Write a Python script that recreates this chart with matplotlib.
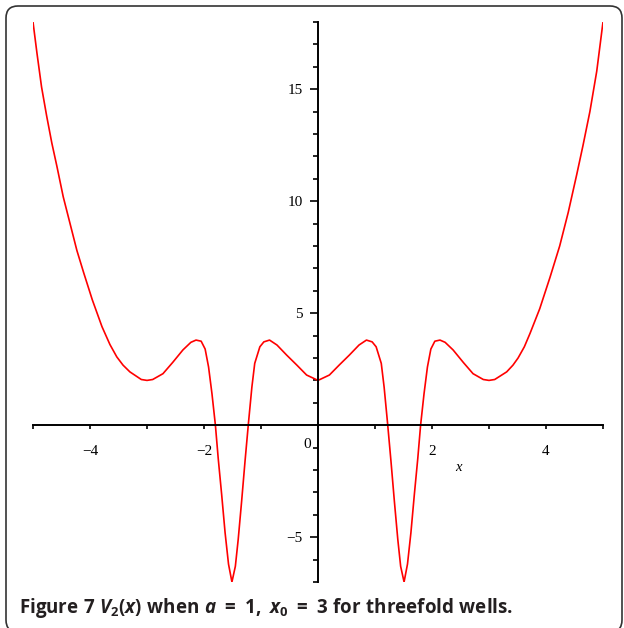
import matplotlib
matplotlib.use("Agg")
import matplotlib.pyplot as plt
from matplotlib.patches import FancyBboxPatch
from matplotlib.transforms import IdentityTransform

# V2(x) values (a = 1, x0 = 3)
x_vals = [-5.0, -4.93, -4.85, -4.76, -4.67, -4.58, -4.47, -4.35, -4.23, -4.11,
          -3.96, -3.79, -3.65, -3.53, -3.42, -3.30, -3.10, -3.0, -2.90, -2.72,
          -2.55, -2.37, -2.23, -2.14, -2.05, -1.98, -1.92, -1.86, -1.80, -1.75,
          -1.69, -1.63, -1.57, -1.51, -1.45, -1.40, -1.34, -1.28, -1.22, -1.16,
          -1.11, -1.02, -0.95, -0.85, -0.72, -0.55, -0.37, -0.20, 0.0,
          0.20, 0.37, 0.55, 0.72, 0.85, 0.95, 1.02, 1.11, 1.16, 1.22,
          1.28, 1.34, 1.40, 1.45, 1.51, 1.57, 1.63, 1.69, 1.75, 1.80,
          1.86, 1.92, 1.98, 2.05, 2.14, 2.23, 2.37, 2.55, 2.72, 2.90,
          3.0, 3.10, 3.31, 3.42, 3.51, 3.62, 3.72, 3.89, 4.07, 4.24,
          4.39, 4.54, 4.65, 4.77, 4.89, 5.0]
v_vals = [18.0, 16.6, 15.1, 13.8, 12.6, 11.55, 10.2, 9.0, 7.8, 6.8,
          5.6, 4.4, 3.6, 3.05, 2.68, 2.38, 2.04, 2.0, 2.04, 2.3,
          2.8, 3.36, 3.7, 3.8, 3.75, 3.4, 2.6, 1.4, 0.0, -1.5,
          -3.1, -4.8, -6.2, -7.0, -6.3, -5.1, -3.4, -1.6, 0.1, 1.7,
          2.76, 3.5, 3.72, 3.8, 3.58, 3.13, 2.68, 2.24, 2.0,
          2.24, 2.68, 3.13, 3.58, 3.8, 3.72, 3.5, 2.76, 1.7, 0.1,
          -1.6, -3.4, -5.1, -6.3, -7.0, -6.2, -4.8, -3.1, -1.5, 0.0,
          1.4, 2.6, 3.4, 3.75, 3.8, 3.7, 3.36, 2.8, 2.3, 2.04,
          2.0, 2.04, 2.38, 2.68, 3.0, 3.5, 4.1, 5.2, 6.6, 8.0,
          9.5, 11.2, 12.5, 14.0, 15.8, 18.0]

x_ticks = [-5, -4, -3, -2, -1, 0, 1, 2, 3, 4, 5]
x_labels = ["", "\u22124", "", "\u22122", "", "", "", "2", "", "4", ""]
y_major = [-5, 5, 10, 15]
y_major_labels = ["\u22125", "5", "10", "15"]
y_minor = [-7, -6, -4, -3, -2, -1, 1, 2, 3, 4, 6, 7, 8, 9, 11, 12, 13, 14, 16, 17, 18]

plt.rcParams['mathtext.fontset'] = 'custom'
plt.rcParams['mathtext.rm'] = 'Open Sans:bold'
plt.rcParams['mathtext.it'] = 'Open Sans:italic:bold'
plt.rcParams['mathtext.bf'] = 'Open Sans:bold'

fig = plt.figure(figsize=(6.24, 6.28), dpi=100)
ax = fig.add_axes([33 / 624, 46 / 628, 570 / 624, 560 / 628])

ax.plot(x_vals, v_vals, color="#ff0000", linewidth=1.2)
ax.set_xlim(-5, 5)
ax.set_ylim(-7, 18)

for side in ["top", "right"]:
    ax.spines[side].set_visible(False)
ax.spines["left"].set_position(("data", 0))
ax.spines["bottom"].set_position(("data", 0))
ax.spines["left"].set_linewidth(1.4)
ax.spines["bottom"].set_linewidth(1.4)

tick_font = {"family": "Liberation Serif", "size": 11}
ax.set_xticks(x_ticks)
ax.set_xticklabels(x_labels, fontdict=tick_font)
ax.tick_params(axis="x", direction="out", length=3, width=1.2, pad=11)

ax.set_yticks(y_major)
ax.set_yticklabels(y_major_labels, fontdict=tick_font)
ax.set_yticks(y_minor, minor=True)
ax.tick_params(axis="y", which="major", direction="out", length=6, width=1.2, pad=5)
ax.tick_params(axis="y", which="minor", direction="out", length=3.6, width=1.2)

# the lone "0" Maple puts just left of the vertical axis
ax.text(-0.13, -0.85, "0", ha="right", va="center", **tick_font)
ax.text(2.46, -1.9, "x", ha="center", va="center", family="Liberation Serif",
        style="italic", size=10.5)

ax.patch.set_visible(False)

box = FancyBboxPatch((6, -4), 616, 626, boxstyle="round,pad=0,rounding_size=12",
                     transform=IdentityTransform(), facecolor="none",
                     edgecolor="#333333", linewidth=1.2)
fig.add_artist(box)

fig.text(19 / 624, 15 / 628,
         r"$\mathrm{Figure\ 7}\ V_2(x)\ \mathrm{when}\ a\ {=}\ 1,\ x_0\ {=}\ 3\ \mathrm{for\ threefold\ wells.}$",
         fontsize=13.5, color="#231f20", ha="left", va="baseline")

fig.savefig("out.png", dpi=100)
